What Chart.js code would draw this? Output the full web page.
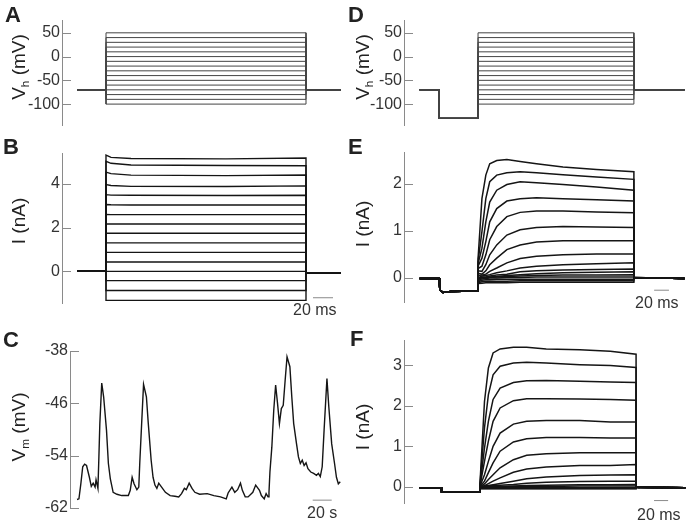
<!DOCTYPE html>
<html>
<head>
<meta charset="utf-8">
<script src="https://cdn.jsdelivr.net/npm/chart.js@4.4.0/dist/chart.umd.min.js"></script>
<style>
body { margin: 0; background: #fff; }
#fig { position: relative; width: 690px; height: 525px; font-family: 'Liberation Sans', Arial, sans-serif; color: #222; }
canvas { position: absolute; }
.lt { position: absolute; font-weight: bold; font-size: 22px; line-height: 22px; }
.yt { position: absolute; font-size: 19px; line-height: 19px; white-space: nowrap; transform: translate(-50%, -50%) rotate(-90deg); }
.sb { position: absolute; font-size: 16px; line-height: 16px; color: #333; }
sub { font-size: 0.62em; vertical-align: -0.35em; line-height: 0; }
</style>
</head>
<body>
<div id="fig">
  <canvas id="cA" width="345" height="125" style="left:0;top:10px"></canvas>
  <canvas id="cB" width="345" height="170" style="left:0;top:143px"></canvas>
  <canvas id="cC" width="345" height="177" style="left:0;top:341px"></canvas>
  <canvas id="cD" width="345" height="125" style="left:345px;top:10px"></canvas>
  <canvas id="cE" width="345" height="170" style="left:345px;top:142px"></canvas>
  <canvas id="cF" width="345" height="183" style="left:345px;top:330px"></canvas>

  <div class="lt" style="left:5px;top:4px">A</div>
  <div class="lt" style="left:3px;top:136px">B</div>
  <div class="lt" style="left:3px;top:329px">C</div>
  <div class="lt" style="left:348px;top:4px">D</div>
  <div class="lt" style="left:348px;top:136px">E</div>
  <div class="lt" style="left:350px;top:328px">F</div>

  <div class="yt" style="left:18px;top:67px">V<sub>h</sub> (mV)</div>
  <div class="yt" style="left:18px;top:221px">I (nA)</div>
  <div class="yt" style="left:18px;top:427px">V<sub>m</sub> (mV)</div>
  <div class="yt" style="left:362px;top:67px">V<sub>h</sub> (mV)</div>
  <div class="yt" style="left:362px;top:224px">I (nA)</div>
  <div class="yt" style="left:362px;top:427px">I (nA)</div>

  <div class="sb" style="left:293px;top:302px">20 ms</div>
  <div class="sb" style="left:307px;top:505px">20 s</div>
  <div class="sb" style="left:635px;top:295px">20 ms</div>
  <div class="sb" style="left:637px;top:507px">20 ms</div>
</div>

<script>
// ---- A: step protocol (mV), times in ms
const aHold = -70;
const aTimes = [-29, 0, 200, 235];
const aSteps = [-100, -90, -80, -70, -60, -50, -40, -30, -20, -10, 0, 10, 20, 30, 40, 50];
const aTicks = [-100, -50, 0, 50];

// ---- D: protocol with hyperpolarising prepulse
const dHold = -70;
const dPre = -130;
const dTimes = [-75, -50, 0, 200, 265];
const dSteps = [-100, -90, -80, -70, -60, -50, -40, -30, -20, -10, 0, 10, 20, 30, 40, 50];

// ---- B: currents (nA)
const bPreT = [-29, 0];
const bPre = 0;
const bPostT = [200, 235];
const bPost = -0.06;
const bTimes = [0, 5, 25, 120, 200];
const bTraces = [
    [5.30, 5.20, 5.15, 5.13, 5.17],
    [5.02, 4.93, 4.85, 4.83, 4.82],
    [4.53, 4.46, 4.39, 4.37, 4.40],
    [3.96, 3.92, 3.88, 3.87, 3.90],
    [3.50, 3.48, 3.47, 3.46, 3.47],
    [3.05, 3.04, 3.03, 3.03, 3.03],
    [2.60, 2.59, 2.59, 2.59, 2.59],
    [2.16, 2.16, 2.16, 2.16, 2.16],
    [1.74, 1.74, 1.74, 1.74, 1.74],
    [1.30, 1.30, 1.30, 1.30, 1.30],
    [0.87, 0.87, 0.87, 0.87, 0.87],
    [0.43, 0.43, 0.43, 0.43, 0.43],
    [0.00, 0.00, 0.00, 0.00, 0.00],
    [-0.42, -0.42, -0.42, -0.42, -0.42],
    [-0.87, -0.87, -0.87, -0.87, -0.87],
    [-1.32, -1.32, -1.32, -1.32, -1.32]
];
const bTicks = [0, 2, 4];
const bBarT = [207, 227];
const bBarY = -1.2;

// ---- C: membrane potential (mV), time in s
const cTime = [0, 2, 4, 6, 8, 10, 13, 15, 17, 19, 20, 22, 23, 24, 26, 28, 31, 33, 35, 38,
    42, 47, 54, 56, 58, 60, 63, 65, 66, 68, 70, 73, 75, 78, 80, 82, 84, 86, 89, 93,
    98, 103, 107, 110, 113, 115, 118, 121, 124, 129, 137, 144, 151, 157, 159, 163, 166, 169, 172, 174,
    177, 180, 185, 188, 192, 194, 197, 199, 201, 202, 203, 205, 207, 209, 211, 213, 215, 217, 219, 221,
    224, 226, 228, 231, 233, 235, 237, 239, 241, 243, 246, 249, 252, 254, 256, 258, 260, 263, 265, 268,
    271, 273, 275, 277];
const cVm = [-60.7, -60.6, -58.3, -55.7, -55.3, -55.5, -57.3, -58.7, -58.2, -58.8, -57.7, -59.0, -54.2, -49.1, -42.9, -45.0, -50.1, -55.2, -57.5, -59.6,
    -59.9, -60.1, -60.1, -59.3, -57.3, -58.3, -59.2, -58.8, -55.2, -49.1, -43.1, -45.0, -49.1, -54.7, -57.3, -58.5, -59.0, -58.2, -58.8, -59.6,
    -60.1, -60.2, -60.3, -59.8, -59.0, -59.2, -58.2, -59.0, -59.6, -59.9, -59.8, -60.1, -60.3, -60.6, -59.7, -58.8, -59.6, -59.2, -58.2, -59.3,
    -60.3, -60.3, -59.6, -58.5, -59.3, -60.1, -60.6, -59.8, -60.3, -59.6, -56.5, -52.7, -47.1, -43.2, -46.0, -49.1, -46.8, -46.3, -42.5, -38.9,
    -40.4, -45.0, -49.1, -52.2, -54.2, -55.2, -54.7, -55.5, -55.1, -56.0, -56.5, -56.7, -57.0, -56.7, -57.2, -55.7, -50.1, -42.2, -46.6, -52.2,
    -55.2, -57.3, -58.3, -58.0];
const cTicks = [-62, -54, -46, -38];
const cBarT = [248, 268];
const cBarY = -60.8;

// ---- E: currents after prepulse (nA)
const ePreT = [-75, -50, -49, -45, -35, -20, 0];
const ePreV = [-0.01, -0.01, -0.25, -0.31, -0.29, -0.28, -0.27];
const ePostT = [200, 265];
const ePostV = [0.01, -0.01];
const eTimes = [0, 5, 10, 15, 24, 37, 54, 75, 109, 152, 200];
const eTraces = [
    [0.40, 1.68, 2.18, 2.42, 2.49, 2.51, 2.47, 2.42, 2.35, 2.30, 2.25],
    [0.35, 0.98, 1.68, 2.04, 2.18, 2.23, 2.25, 2.23, 2.19, 2.14, 2.09],
    [0.30, 0.63, 1.19, 1.61, 1.86, 1.98, 2.04, 2.02, 1.98, 1.93, 1.86],
    [0.25, 0.42, 0.77, 1.19, 1.47, 1.63, 1.68, 1.70, 1.68, 1.66, 1.63],
    [0.20, 0.25, 0.49, 0.81, 1.09, 1.30, 1.39, 1.42, 1.42, 1.40, 1.38],
    [0.15, 0.14, 0.28, 0.49, 0.70, 0.91, 1.02, 1.07, 1.09, 1.08, 1.07],
    [0.10, 0.08, 0.15, 0.28, 0.42, 0.60, 0.70, 0.76, 0.79, 0.79, 0.79],
    [0.05, 0.06, 0.08, 0.14, 0.21, 0.32, 0.41, 0.46, 0.49, 0.51, 0.51],
    [0.00, 0.04, 0.05, 0.07, 0.11, 0.15, 0.21, 0.25, 0.28, 0.30, 0.32],
    [0.00, 0.02, 0.02, 0.04, 0.06, 0.08, 0.13, 0.15, 0.17, 0.18, 0.19],
    [-0.02, 0.01, 0.01, 0.02, 0.03, 0.05, 0.07, 0.09, 0.11, 0.12, 0.13],
    [-0.04, 0.00, 0.00, 0.01, 0.02, 0.03, 0.04, 0.05, 0.06, 0.06, 0.07],
    [-0.06, -0.02, -0.01, 0.00, 0.00, 0.01, 0.01, 0.02, 0.02, 0.02, 0.02],
    [-0.08, -0.05, -0.04, -0.04, -0.03, -0.03, -0.03, -0.03, -0.03, -0.03, -0.03],
    [-0.10, -0.08, -0.07, -0.07, -0.07, -0.07, -0.06, -0.06, -0.06, -0.06, -0.06],
    [-0.12, -0.11, -0.10, -0.10, -0.10, -0.10, -0.09, -0.09, -0.09, -0.09, -0.09]
];
const eTicks = [0, 1, 2];
const eBarT = [226, 245];
const eBarY = -0.26;

// ---- F: currents, smaller prepulse (nA)
const fPreT = [-77, -49, -49, 0];
const fPreV = [-0.02, -0.02, -0.12, -0.12];
const fPostT = [200, 263];
const fPostV = [-0.01, -0.02];
const fTimes = [0, 6, 11, 17, 26, 43, 60, 85, 128, 167, 200];
const fTraces = [
    [0.00, 2.11, 2.94, 3.31, 3.41, 3.45, 3.45, 3.41, 3.39, 3.35, 3.28],
    [0.00, 1.46, 2.28, 2.77, 2.98, 3.06, 3.08, 3.06, 3.02, 3.00, 2.95],
    [0.00, 0.96, 1.62, 2.16, 2.44, 2.58, 2.62, 2.63, 2.61, 2.59, 2.58],
    [0.00, 0.63, 1.13, 1.62, 1.95, 2.13, 2.18, 2.18, 2.17, 2.16, 2.14],
    [0.00, 0.30, 0.63, 1.00, 1.33, 1.55, 1.62, 1.64, 1.64, 1.60, 1.60],
    [0.00, 0.14, 0.35, 0.59, 0.88, 1.11, 1.19, 1.22, 1.22, 1.21, 1.21],
    [0.00, 0.07, 0.18, 0.30, 0.47, 0.67, 0.78, 0.82, 0.84, 0.84, 0.84],
    [0.00, 0.03, 0.08, 0.14, 0.22, 0.36, 0.44, 0.49, 0.53, 0.53, 0.55],
    [0.00, 0.02, 0.03, 0.05, 0.08, 0.14, 0.20, 0.24, 0.28, 0.29, 0.30],
    [0.00, 0.01, 0.02, 0.03, 0.04, 0.06, 0.09, 0.11, 0.13, 0.14, 0.14],
    [0.00, 0.00, 0.00, 0.01, 0.01, 0.02, 0.03, 0.04, 0.05, 0.05, 0.06],
    [0.00, -0.01, -0.01, 0.00, 0.00, 0.01, 0.01, 0.01, 0.02, 0.02, 0.02],
    [-0.02, -0.02, -0.02, -0.02, -0.02, -0.02, -0.02, -0.02, -0.02, -0.02, -0.02],
    [-0.03, -0.03, -0.03, -0.03, -0.03, -0.03, -0.03, -0.03, -0.03, -0.03, -0.03],
    [-0.04, -0.04, -0.04, -0.04, -0.04, -0.04, -0.04, -0.04, -0.04, -0.04, -0.04],
    [-0.05, -0.05, -0.05, -0.05, -0.05, -0.05, -0.05, -0.05, -0.05, -0.05, -0.05]
];
const fTicks = [0, 1, 2, 3];
const fBarT = [223, 241];
const fBarY = -0.34;

const TRACE = '#151515';
const AXIS = '#8a8a8a';

// tick marks pointing into the plot, like the original figure
const inwardTicks = {
    id: 'inwardTicks',
    afterDraw(chart) {
        const s = chart.scales.y;
        const ctx = chart.ctx;
        const x0 = chart.chartArea.left;
        ctx.save();
        ctx.strokeStyle = AXIS;
        ctx.lineWidth = 1;
        s.ticks.forEach(t => {
            const y = Math.round(s.getPixelForValue(t.value)) + 0.5;
            ctx.beginPath();
            ctx.moveTo(x0, y);
            ctx.lineTo(x0 + 9, y);
            ctx.stroke();
        });
        ctx.restore();
    }
};

function line(points, color, width) {
    return { data: points, borderColor: color, borderWidth: width, pointRadius: 0, fill: false, tension: 0 };
}

function bar(ts, y) {
    return line(ts.map(t => ({ x: t, y: y })), AXIS, 1);
}

function currentTrace(preT, preV, times, vals, postT, postV) {
    const pts = preT.map((t, i) => ({ x: t, y: preV[i] }));
    times.forEach((t, i) => pts.push({ x: t, y: vals[i] }));
    postT.forEach((t, i) => pts.push({ x: t, y: postV[i] }));
    return pts;
}

function makePanel(id, axisW, xMin, xMax, yMin, yMax, ticks, datasets) {
    new Chart(document.getElementById(id), {
        type: 'line',
        data: { datasets: datasets },
        plugins: [inwardTicks],
        options: {
            responsive: false,
            animation: false,
            layout: { padding: { top: 10, bottom: 10, left: 0, right: 0 } },
            plugins: { legend: { display: false }, tooltip: { enabled: false } },
            scales: {
                x: { type: 'linear', min: xMin, max: xMax, display: false },
                y: {
                    type: 'linear', min: yMin, max: yMax,
                    afterFit: s => { s.width = axisW; s.paddingTop = 0; s.paddingBottom = 0; },
                    afterBuildTicks: s => { s.ticks = ticks.map(v => ({ value: v })); },
                    grid: { drawOnChartArea: false, drawTicks: false },
                    border: { display: true, color: AXIS, width: 1 },
                    ticks: { padding: 2, color: '#333', font: { family: 'Liberation Sans', size: 16 } }
                }
            }
        }
    });
}

// A
const aSets = aSteps.map(v => line([
    { x: aTimes[0], y: aHold }, { x: aTimes[1], y: aHold }, { x: aTimes[1], y: v },
    { x: aTimes[2], y: v }, { x: aTimes[2], y: aHold }, { x: aTimes[3], y: aHold }
], '#444', 1));
makePanel('cA', 62, -44, 239, -144, 77, aTicks, aSets);

// D
const dSets = dSteps.map(v => line([
    { x: dTimes[0], y: dHold }, { x: dTimes[1], y: dHold }, { x: dTimes[1], y: dPre },
    { x: dTimes[2], y: dPre }, { x: dTimes[2], y: v }, { x: dTimes[3], y: v },
    { x: dTimes[3], y: dHold }, { x: dTimes[4], y: dHold }
], '#444', 1));
makePanel('cD', 59, -95, 272, -144, 77, aTicks, dSets);

// B
const bSets = bTraces.map(r => line(currentTrace(
    bPreT, [bPre, bPre], bTimes, r, bPostT, [bPost, bPost]), TRACE, 1.4));
bSets.push(bar(bBarT, bBarY));
makePanel('cB', 62, -44, 239, -1.44, 5.4, bTicks, bSets);

// C
const cSets = [line(cTime.map((t, i) => ({ x: t, y: cVm[i] })), TRACE, 1.4), bar(cBarT, cBarY)];
makePanel('cC', 70, -7.4, 282, -62, -38, cTicks, cSets);

// E
const eSets = eTraces.map(r => line(currentTrace(ePreT, ePreV, eTimes, r, ePostT, ePostV), TRACE, 1.5));
eSets.push(bar(eBarT, eBarY));
makePanel('cE', 59, -95, 272, -0.51, 2.67, eTicks, eSets);

// F
const fSets = fTraces.map(r => line(currentTrace(fPreT, fPreV, fTimes, r, fPostT, fPostV), TRACE, 1.5));
fSets.push(bar(fBarT, fBarY));
makePanel('cF', 59, -97, 269, -0.40, 3.63, fTicks, fSets);
</script>
</body>
</html>
